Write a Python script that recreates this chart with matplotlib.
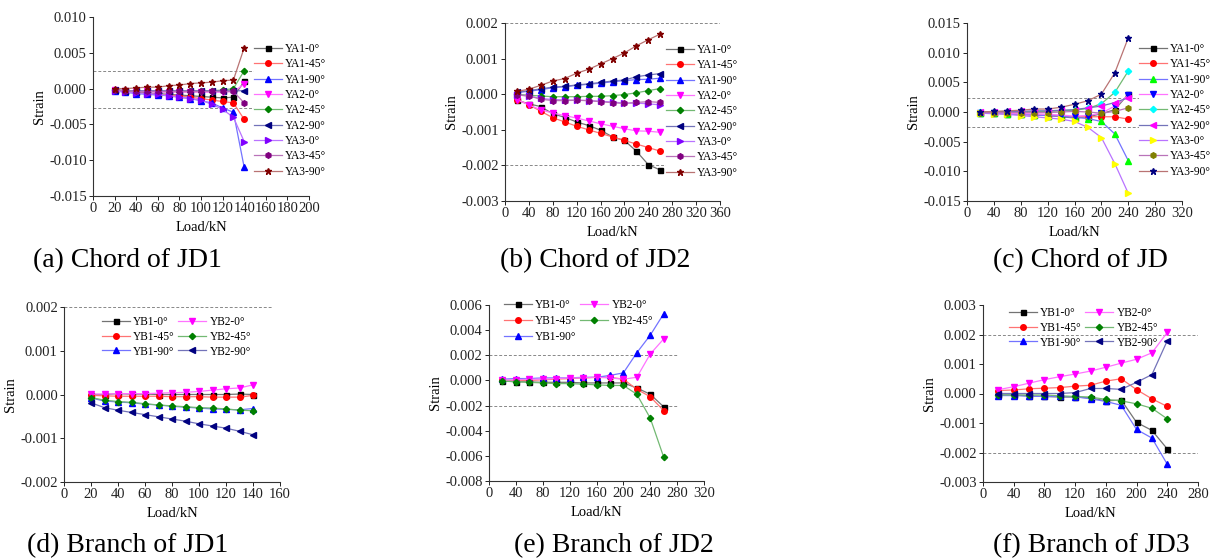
import matplotlib
matplotlib.use("Agg")
import matplotlib.pyplot as plt
import matplotlib.colors as mcolors
from matplotlib.ticker import FormatStrFormatter, MultipleLocator
import numpy as np

plt.rcParams['font.family'] = ['Liberation Serif', 'DejaVu Serif']

# ---- data ----
load_a = [20, 30, 40, 50, 60, 70, 80, 90, 100, 110, 120, 130, 140]
labels_a = ["YA1-0°", "YA1-45°", "YA1-90°", "YA2-0°", "YA2-45°", "YA2-90°",
            "YA3-0°", "YA3-45°", "YA3-90°"]
strain_a = [
    [-0.0002, -0.0003, -0.0005, -0.0006, -0.0007, -0.0008, -0.0009, -0.0010, -0.0011, -0.0012, -0.0013, -0.0012, 0.0010],
    [-0.0002, -0.0004, -0.0006, -0.0007, -0.0008, -0.0009, -0.0010, -0.0012, -0.0014, -0.0016, -0.0018, -0.0020, -0.0043],
    [-0.0003, -0.0005, -0.0007, -0.0008, -0.0009, -0.0010, -0.0012, -0.0014, -0.0017, -0.0020, -0.0027, -0.0033, -0.0110],
    [-0.0002, -0.0003, -0.0004, -0.0004, -0.0005, -0.0005, -0.0005, -0.0005, -0.0005, -0.0005, -0.0005, -0.0004, 0.0006],
    [-0.0002, -0.0003, -0.0004, -0.0004, -0.0004, -0.0004, -0.0004, -0.0004, -0.0004, -0.0003, -0.0002, 0.0000, 0.0025],
    [-0.0002, -0.0003, -0.0003, -0.0003, -0.0003, -0.0003, -0.0003, -0.0003, -0.0003, -0.0003, -0.0003, -0.0003, -0.0003],
    [-0.0003, -0.0005, -0.0006, -0.0007, -0.0008, -0.0010, -0.0012, -0.0014, -0.0016, -0.0022, -0.0029, -0.0040, -0.0074],
    [-0.0002, -0.0003, -0.0004, -0.0004, -0.0004, -0.0004, -0.0004, -0.0004, -0.0004, -0.0004, -0.0004, -0.0004, -0.0020],
    [0.0000, 0.0000, 0.0001, 0.0002, 0.0002, 0.0004, 0.0005, 0.0007, 0.0008, 0.0009, 0.0011, 0.0012, 0.0057],
]

load_b = [20, 40, 60, 80, 100, 120, 140, 160, 180, 200, 220, 240, 260]
strain_b = [
    [-0.00017, -0.00027, -0.00035, -0.00055, -0.00065, -0.00078, -0.00088, -0.00101, -0.0012, -0.0013, -0.0016, -0.00198, -0.00213],
    [-0.00015, -0.0003, -0.00048, -0.00066, -0.00078, -0.0009, -0.001, -0.0011, -0.0012, -0.0013, -0.0014, -0.0015, -0.0016],
    [0.00005, 0.00008, 0.00013, 0.00018, 0.00021, 0.00025, 0.00028, 0.00031, 0.00035, 0.00038, 0.00041, 0.00042, 0.00045],
    [-0.00015, -0.0003, -0.00044, -0.00053, -0.0006, -0.00067, -0.00075, -0.00083, -0.0009, -0.00097, -0.00103, -0.00104, -0.00107],
    [0.0, -0.00003, -0.00005, -0.00007, -0.00007, -0.00007, -0.00006, -0.00006, -0.00004, -0.00001, 0.00004, 0.0001, 0.00016],
    [0.00005, 0.0001, 0.00015, 0.0002, 0.00022, 0.00026, 0.00029, 0.00033, 0.00037, 0.0004, 0.00049, 0.00054, 0.00058],
    [-0.00002, -0.00005, -0.00012, -0.00015, -0.00016, -0.00017, -0.00018, -0.0002, -0.00022, -0.00025, -0.00025, -0.00027, -0.0003],
    [-0.00002, -0.00005, -0.00014, -0.00018, -0.00018, -0.00017, -0.00018, -0.00021, -0.00024, -0.00026, -0.00023, -0.00021, -0.00023],
    [0.00008, 0.00014, 0.00025, 0.00037, 0.00044, 0.00059, 0.0007, 0.00085, 0.001, 0.00116, 0.00136, 0.00153, 0.00169],
]

load_c = [20, 40, 60, 80, 100, 120, 140, 160, 180, 200, 220, 240]
strain_c = [
    [-0.0001, -0.0002, -0.0003, -0.0004, -0.0005, -0.0006, -0.0008, -0.0010, -0.0008, -0.0003, 0.0004, 0.0030],
    [-0.0001, -0.0002, -0.0003, -0.0004, -0.0005, -0.0006, -0.0007, -0.0008, -0.0008, -0.0008, -0.0008, -0.0012],
    [-0.0001, -0.0002, -0.0003, -0.0004, -0.0005, -0.0006, -0.0007, -0.0009, -0.0011, -0.0016, -0.0037, -0.0082],
    [-0.0001, -0.0001, -0.0002, -0.0003, -0.0003, -0.0004, -0.0005, -0.0007, -0.0006, -0.0002, 0.0010, 0.0028],
    [0.0, 0.0, 0.0, 0.0, 0.0001, 0.0001, 0.0002, 0.0003, 0.0006, 0.0014, 0.0033, 0.0069],
    [0.0, 0.0, 0.0001, 0.0001, 0.0002, 0.0002, 0.0003, 0.0004, 0.0007, 0.0010, 0.0016, 0.0024],
    [-0.0002, -0.0003, -0.0004, -0.0006, -0.0008, -0.0010, -0.0012, -0.0016, -0.0026, -0.0043, -0.0087, -0.0137],
    [-0.0001, -0.0001, -0.0001, -0.0001, -0.0001, -0.0001, 0.0, 0.0001, 0.0, -0.0002, 0.0001, 0.0007],
    [0.0, 0.0001, 0.0002, 0.0003, 0.0005, 0.0005, 0.0008, 0.0013, 0.0019, 0.0030, 0.0066, 0.0125],
]

labels_br = ["YB1-0°", "YB1-45°", "YB1-90°", "YB2-0°", "YB2-45°", "YB2-90°"]

load_d = [20, 30, 40, 50, 60, 70, 80, 90, 100, 110, 120, 130, 140]
strain_d = [
    [0.0, 0.0, 0.00002, 0.00001, 0.00001, 0.0, 0.0, 0.0, 0.0, 0.0, 0.0, 0.00001, 0.0],
    [-0.00002, -0.00003, -0.00004, -0.00004, -0.00004, -0.00004, -0.00005, -0.00005, -0.00005, -0.00006, -0.00006, -0.00006, -0.00002],
    [-0.00008, -0.00015, -0.00017, -0.00019, -0.00022, -0.00024, -0.00027, -0.00029, -0.00031, -0.00033, -0.00034, -0.00035, -0.00032],
    [0.00001, 0.00001, 0.00002, 0.00002, 0.00002, 0.00003, 0.00004, 0.00005, 0.00007, 0.0001, 0.00013, 0.00015, 0.00022],
    [-0.00007, -0.00013, -0.00016, -0.00018, -0.00021, -0.00024, -0.00026, -0.00028, -0.0003, -0.00031, -0.00033, -0.00036, -0.00037],
    [-0.00019, -0.0003, -0.00036, -0.00041, -0.00046, -0.00051, -0.00056, -0.00061, -0.00067, -0.00072, -0.00077, -0.00084, -0.00092],
]

load_e = [20, 40, 60, 80, 100, 120, 140, 160, 180, 200, 220, 240, 260]
labels_e = ["YB1-0°", "YB1-45°", "YB1-90°", "YB2-0°", "YB2-45°"]
strain_e = [
    [-0.00005, -0.0001, -0.00012, -0.00015, -0.00015, -0.00015, -0.0002, -0.0002, -0.0002, -0.0002, -0.0006, -0.0011, -0.0021],
    [0.0, 0.0, 0.0, 0.00005, 0.0001, 0.00015, 0.0002, 0.00025, 0.00025, 0.0001, -0.0007, -0.0013, -0.0024],
    [0.0001, 0.00015, 0.00015, 0.0002, 0.0002, 0.0002, 0.00025, 0.00025, 0.0004, 0.0006, 0.0022, 0.0036, 0.0053],
    [0.0, 0.00005, 0.0001, 0.0001, 0.00015, 0.0002, 0.0002, 0.00025, 0.0002, 0.0001, 0.00025, 0.0021, 0.0033],
    [-0.00005, -0.0001, -0.00015, -0.0002, -0.00025, -0.00025, -0.0003, -0.00035, -0.0004, -0.0004, -0.0011, -0.0030, -0.0061],
]

load_f = [20, 40, 60, 80, 100, 120, 140, 160, 180, 200, 220, 240]
strain_f = [
    [-0.00005, -0.00005, -0.00008, -0.0001, -0.00012, -0.00012, -0.00015, -0.00025, -0.00022, -0.00098, -0.00125, -0.00188],
    [0.0001, 0.00012, 0.00016, 0.00018, 0.0002, 0.00025, 0.00028, 0.00042, 0.0005, 0.00013, -0.00018, -0.00044],
    [-0.00007, -0.00007, -0.00009, -0.0001, -0.0001, -0.00011, -0.00018, -0.00027, -0.0004, -0.00122, -0.00151, -0.0024],
    [0.00013, 0.00023, 0.00035, 0.00047, 0.00057, 0.00066, 0.00076, 0.00089, 0.00103, 0.00116, 0.00138, 0.00207],
    [-0.00005, -0.00005, -0.00005, -0.00005, -0.00008, -0.0001, -0.00012, -0.0002, -0.00025, -0.00035, -0.0005, -0.00086],
    [0.0, 0.0, 0.0, 0.0, 0.0, 0.00003, 0.00017, 0.00017, 0.00014, 0.00038, 0.00064, 0.00179],
]

captions = ["(a) Chord of JD1", "(b) Chord of JD2", "(c) Chord of JD",
            "(d) Branch of JD1", "(e) Branch of JD2", "(f) Branch of JD3"]

# ---- styles ----
colors1 = ['#000000', '#ff0000', '#0000ff', '#ff00ff', '#008000', '#000080',
           '#8000ff', '#800080', '#800000']
colors2 = ['#000000', '#ff0000', '#00ff00', '#0000ff', '#00ffff', '#ff00ff',
           '#ffff00', '#808000', '#000080']
markers = ['s', 'o', '^', 'v', 'D', '<', '>', 'h', '*']
msizes = [3.6, 4, 4, 4, 3.2, 4, 4, 4, 5]


def lighten(c, f=0.45):
    r = np.array(mcolors.to_rgb(c))
    return tuple(r + (1 - r) * f)


W, H = 1214, 558


def make_ax(fig, l, r, t, b):
    ax = fig.add_axes([l / W, 1 - b / H, (r - l) / W, (b - t) / H])
    ax.spines['top'].set_visible(False)
    ax.spines['right'].set_visible(False)
    for s in ['left', 'bottom']:
        ax.spines[s].set_linewidth(0.8)
        ax.spines[s].set_color('#333333')
    ax.tick_params(direction='out', length=3, width=0.7, labelsize=10.5, pad=1.5, colors='#222222')
    ax.set_xlabel("Load/kN", fontsize=10.5, labelpad=4)
    ax.set_ylabel("Strain", fontsize=10.5, labelpad=2)
    return ax


def draw(ax, x, ys, labels, mcols, lcols):
    for i, y in enumerate(ys):
        ax.plot(x, y, color=lighten(lcols[i]), lw=0.9, marker=markers[i], ms=msizes[i],
                mfc=mcols[i], mec=mcols[i], label=labels[i], zorder=3)


def dashes(ax, x0, x1, levels):
    for lv in levels:
        ax.plot([x0, x1], [lv, lv], ls=(0, (3, 2)), color='#888888', lw=0.7, zorder=1)


fig = plt.figure(figsize=(W / 100, H / 100), dpi=100)

leg_kw = dict(fontsize=8.3, frameon=True, framealpha=1, edgecolor='none', facecolor='white',
              borderpad=0, borderaxespad=0, handlelength=2.4, handletextpad=0.3,
              labelspacing=0.29, loc='upper left', bbox_transform=fig.transFigure)

# (a)
ax = make_ax(fig, 93, 309, 17, 196)
dashes(ax, 0, 200, [0.0025, -0.0027])
draw(ax, load_a, strain_a, labels_a, colors1, colors1)
ax.set_xlim(0, 200); ax.set_ylim(-0.015, 0.010)
ax.xaxis.set_major_locator(MultipleLocator(20)); ax.yaxis.set_major_locator(MultipleLocator(0.005))
ax.yaxis.set_major_formatter(FormatStrFormatter('%.3f'))
ax.legend(bbox_to_anchor=(254 / W, 1 - 43 / H), **leg_kw)

# (b)
ax = make_ax(fig, 505, 720, 23, 201)
dashes(ax, 0, 360, [0.002, -0.002])
draw(ax, load_b, strain_b, labels_a, colors1, colors1)
ax.set_xlim(0, 360); ax.set_ylim(-0.003, 0.002)
ax.xaxis.set_major_locator(MultipleLocator(40)); ax.yaxis.set_major_locator(MultipleLocator(0.001))
ax.yaxis.set_major_formatter(FormatStrFormatter('%.3f'))
ax.legend(bbox_to_anchor=(666 / W, 1 - 44 / H), **leg_kw)

# (c)
ax = make_ax(fig, 967, 1182, 23, 201)
dashes(ax, 0, 320, [0.0023, -0.0026])
draw(ax, load_c, strain_c, labels_a, colors2, colors1)
ax.set_xlim(0, 320); ax.set_ylim(-0.015, 0.015)
ax.xaxis.set_major_locator(MultipleLocator(40)); ax.yaxis.set_major_locator(MultipleLocator(0.005))
ax.yaxis.set_major_formatter(FormatStrFormatter('%.3f'))
ax.legend(bbox_to_anchor=(1139 / W, 1 - 43 / H), **leg_kw)

leg_kw2 = dict(leg_kw)
leg_kw2.update(ncol=2, columnspacing=0.3, frameon=False, labelspacing=0.24)

# (d)
ax = make_ax(fig, 64, 280, 307, 482)
dashes(ax, 0, 155, [0.002])
draw(ax, load_d, strain_d, labels_br, colors1, colors1)
ax.set_xlim(0, 160); ax.set_ylim(-0.002, 0.002)
ax.xaxis.set_major_locator(MultipleLocator(20)); ax.yaxis.set_major_locator(MultipleLocator(0.001))
ax.yaxis.set_major_formatter(FormatStrFormatter('%.3f'))
ax.legend(bbox_to_anchor=(102 / W, 1 - 316 / H), **leg_kw2)

# (e)
ax = make_ax(fig, 489, 704, 305, 481)
dashes(ax, 0, 280, [0.002, -0.002])
draw(ax, load_e, strain_e, labels_e, colors1, colors1)
ax.set_xlim(0, 320); ax.set_ylim(-0.008, 0.006)
ax.xaxis.set_major_locator(MultipleLocator(40)); ax.yaxis.set_major_locator(MultipleLocator(0.002))
ax.yaxis.set_major_formatter(FormatStrFormatter('%.3f'))
leg_e = dict(leg_kw2)
leg_e.update(labelspacing=0.34)
ax.legend(bbox_to_anchor=(504 / W, 1 - 299 / H), **leg_e)

# (f)
ax = make_ax(fig, 983, 1198, 305, 482)
dashes(ax, 0, 280, [0.002, -0.002])
draw(ax, load_f, strain_f, labels_br, colors1, colors1)
ax.set_xlim(0, 280); ax.set_ylim(-0.003, 0.003)
ax.xaxis.set_major_locator(MultipleLocator(40)); ax.yaxis.set_major_locator(MultipleLocator(0.001))
ax.yaxis.set_major_formatter(FormatStrFormatter('%.3f'))
ax.legend(bbox_to_anchor=(1009 / W, 1 - 307 / H), **leg_kw2)

# captions (left edge, baseline)
cap_pos = [(33, 267), (500, 267), (993, 267), (27, 552), (514, 552), (993, 552)]
for (cx, cy), txt in zip(cap_pos, captions):
    fig.text(cx / W, 1 - cy / H, txt, fontsize=20, ha='left', va='baseline')

fig.savefig("out.png", dpi=100)
